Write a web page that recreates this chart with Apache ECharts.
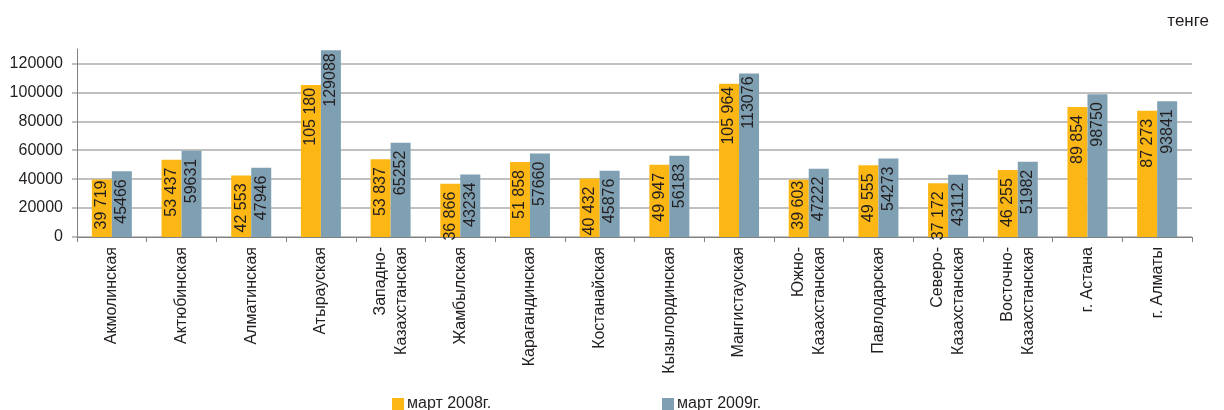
<!DOCTYPE html>
<html>
<head>
<meta charset="utf-8">
<script src="https://cdn.jsdelivr.net/npm/echarts@6/dist/echarts.min.js"></script>
<style>
html,body{margin:0;padding:0;background:#fff;}
#chart{width:1224px;height:410px;}
</style>
</head>
<body>
<div id="chart"></div>
<script>
const categories = ['Акмолинская', 'Актюбинская', 'Алматинская', 'Атырауская', 'Западно-\nКазахстанская', 'Жамбылская', 'Карагандинская', 'Костанайская', 'Кызылординская', 'Мангистауская', 'Южно-\nКазахстанская', 'Павлодарская', 'Северо-\nКазахстанская', 'Восточно-\nКазахстанская', 'г. Астана', 'г. Алматы'];
const seriesNames = ['март 2008г.', 'март 2009г.'];
const values2008 = [39719, 53437, 42553, 105180, 53837, 36866, 51858, 40432, 49947, 105964, 39603, 49555, 37172, 46255, 89854, 87273];
const values2009 = [45466, 59631, 47946, 129088, 65252, 43234, 57660, 45876, 56183, 113076, 47222, 54273, 43112, 51982, 98750, 93841];
const yTicks = [0, 20000, 40000, 60000, 80000, 100000, 120000];
const unitLabel = 'тенге';

const FONT = "'Liberation Sans', Arial, sans-serif";
const TEXT = '#231f20';
const colors = ['#FDB714', '#7FA0B3'];

function spaced(v) {
  return String(v).replace(/\B(?=(\d{3})+(?!\d))/g, ' ');
}
function mkSeries(name, vals, color, fmt) {
  return {
    name: name,
    type: 'bar',
    barWidth: 20,
    barGap: '0%',
    itemStyle: { color: color },
    data: vals.map(v => ({
      value: v,
      label: { distance: v > 100000 ? 3 : (v < 40000 && v > 39000 ? 1 : 8) }
    })),
    label: {
      show: true,
      position: 'insideTop',
      rotate: 90,
      align: 'right',
      verticalAlign: 'middle',
      fontFamily: FONT,
      fontSize: 16,
      color: TEXT,
      formatter: p => fmt(p.value)
    }
  };
}

const chart = echarts.init(document.getElementById('chart'), null, { renderer: 'canvas' });
chart.setOption({
  animation: false,
  backgroundColor: '#ffffff',
  textStyle: { fontFamily: FONT },
  title: {
    text: unitLabel,
    right: 15,
    top: 13,
    padding: 0,
    textStyle: { fontFamily: FONT, fontSize: 17, fontWeight: 'normal', color: TEXT }
  },
  grid: { left: 77, right: 32, top: 49, bottom: 173, containLabel: false },
  legend: [
    {
      data: [seriesNames[0]], left: 392, top: 396, padding: 0, itemWidth: 12, itemHeight: 12, itemGap: 4,
      icon: 'rect', textStyle: { fontFamily: FONT, fontSize: 16, color: TEXT, padding: [0, 0, 0, -2] }
    },
    {
      data: [seriesNames[1]], left: 662, top: 396, padding: 0, itemWidth: 12, itemHeight: 12, itemGap: 4,
      icon: 'rect', textStyle: { fontFamily: FONT, fontSize: 16, color: TEXT, padding: [0, 0, 0, -2] }
    }
  ],
  xAxis: {
    type: 'category',
    data: categories,
    axisLine: { lineStyle: { color: '#808080', width: 1 } },
    axisTick: { show: true, length: 5, lineStyle: { color: '#808080' } },
    axisLabel: {
      interval: 0, rotate: 90, margin: 10, fontFamily: FONT, fontSize: 16,
      lineHeight: 21, color: TEXT
    }
  },
  yAxis: {
    type: 'value',
    min: yTicks[0],
    max: 130000,
    interval: yTicks[1] - yTicks[0],
    axisLine: { show: true, lineStyle: { color: '#808080', width: 1 } },
    axisTick: { show: true, length: 5, lineStyle: { color: '#bfbfbf', width: 2 } },
    axisLabel: { showMaxLabel: false, margin: 14, fontFamily: FONT, fontSize: 16, color: TEXT,
      formatter: v => String(v) },
    splitLine: { show: true, showMaxLine: false, lineStyle: { color: '#c0c0c0', width: 2 } }
  },
  series: [
    mkSeries(seriesNames[0], values2008, colors[0], spaced),
    mkSeries(seriesNames[1], values2009, colors[1], v => String(v))
  ]
});
</script>
</body>
</html>
